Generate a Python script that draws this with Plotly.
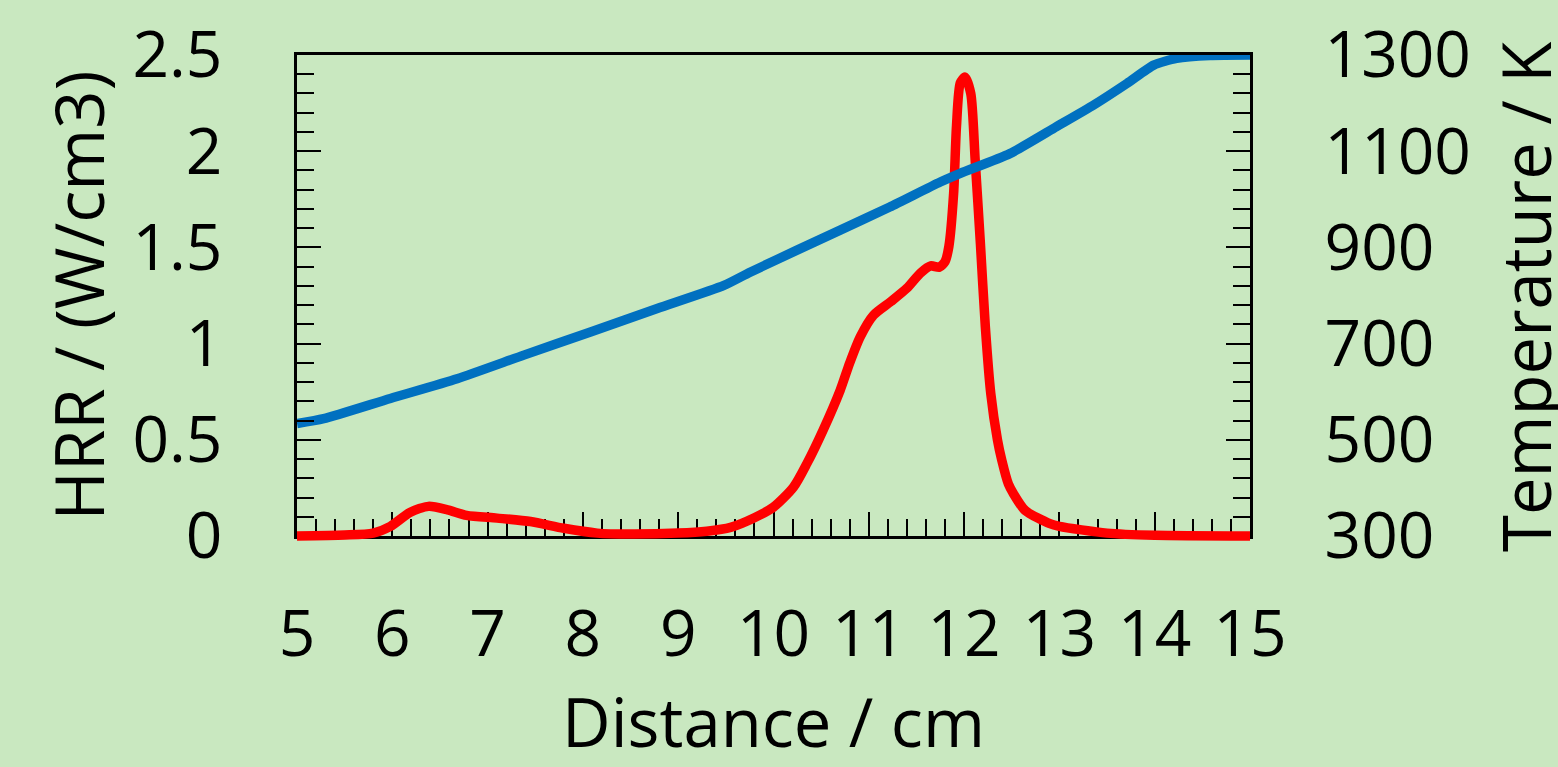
import plotly.graph_objects as go

# HRR (left axis)
hrr_x = [5.0, 5.5, 5.8, 5.98, 6.19, 6.38, 6.58, 6.78, 7.1, 7.45, 7.8, 8.15, 8.5, 9.0, 9.3,
         9.55, 9.8, 10.0, 10.21, 10.35, 10.52, 10.7, 10.8, 10.91, 11.05, 11.23, 11.40,
         11.54, 11.65, 11.74, 11.80, 11.84, 11.89, 11.92, 11.96, 12.01, 12.07, 12.116,
         12.171, 12.223, 12.28, 12.35, 12.396, 12.465, 12.518, 12.64, 12.9, 13.0,
         13.5, 14.0, 15.0]
hrr_y = [0.0, 0.005, 0.015, 0.05, 0.124, 0.154, 0.136, 0.107, 0.093, 0.075, 0.04, 0.015, 0.01,
         0.015, 0.025, 0.045, 0.095, 0.15, 0.254, 0.376, 0.55, 0.758, 0.90, 1.035, 1.148, 1.218,
         1.288, 1.366, 1.404, 1.397, 1.426, 1.504, 1.78, 2.13, 2.355, 2.385, 2.30, 1.956,
         1.52, 1.087, 0.74, 0.50, 0.393, 0.27, 0.22, 0.133, 0.064, 0.05,
         0.015, 0.004, 0.0]

# Temperature (right axis)
temp_x = [5.0, 5.28, 5.98, 6.68, 7.38, 8.08, 8.78, 9.48, 9.76, 10.7, 11.22, 11.75, 11.96,
          12.48, 12.97, 13.36, 13.71, 13.99, 14.23, 14.58, 15.0]
temp_y = [534, 544, 586, 627, 676, 724, 773, 821, 849, 936, 984, 1036, 1054,
          1095, 1151, 1196, 1241, 1279, 1293, 1299, 1300]

x_title = "Distance / cm"
y_title = "HRR / (W/cm3)"
y2_title = "Temperature / K"

BG = "#C9E8C0"
FONT = "Open Sans"
TICKFONT = dict(family=FONT, size=64, color="black")
TITLEFONT = dict(family=FONT, size=67, color="black")

fig = go.Figure()
fig.add_trace(go.Scatter(x=hrr_x, y=hrr_y, mode="lines", yaxis="y",
                         line=dict(color="#FF0000", width=9.5, shape="spline", smoothing=0.7),
                         cliponaxis=False, showlegend=False))
fig.add_trace(go.Scatter(x=temp_x, y=temp_y, mode="lines", yaxis="y2",
                         line=dict(color="#0070C0", width=9.5, shape="spline", smoothing=0.6),
                         showlegend=False))

common = dict(showgrid=False, zeroline=False, showline=True, linecolor="black", linewidth=2.5,
              ticks="inside", ticklen=24, tickwidth=2, tickcolor="black",
              tickfont=TICKFONT)

fig.update_layout(
    width=1558, height=767,
    paper_bgcolor=BG, plot_bgcolor=BG,
    margin=dict(l=297, r=308, t=55, b=231, autoexpand=False),
    xaxis=dict(range=[5, 15], tick0=5, dtick=1, mirror=True, layer="below traces",
               minor=dict(dtick=0.2, ticks="inside", ticklen=17, tickwidth=2, tickcolor="black"),
               ticklabelstandoff=40,
               title=dict(text=x_title, font=TITLEFONT, standoff=50), **common),
    yaxis=dict(range=[0, 2.5], tick0=0, dtick=0.5,
               minor=dict(dtick=0.1, ticks="inside", ticklen=17, tickwidth=2, tickcolor="black"),
               ticklabelstandoff=59,
               title=dict(text=y_title, font=TITLEFONT, standoff=7), **common),
    yaxis2=dict(range=[300, 1300], tick0=300, dtick=200, overlaying="y", side="right",
                minor=dict(tick0=300, dtick=40, ticks="inside", ticklen=17, tickwidth=2, tickcolor="black"),
                ticklabelstandoff=59, **common),
    annotations=[dict(text=y2_title, xref="paper", yref="paper", x=1.2886, y=0.497,
                      xanchor="center", yanchor="middle", textangle=-90, showarrow=False,
                      font=TITLEFONT)],
)

post = """
document.body.style.margin='0';
document.body.style.background='%s';
(function(){
  var gd=document.querySelector('.js-plotly-plot');
  if(!gd) return;
  var lines=[].slice.call(gd.querySelectorAll('path.js-line'));
  var red=null, blue=null;
  lines.forEach(function(p){
    var s=(p.getAttribute('style')||'');
    if(s.indexOf('255, 0, 0')>=0) red=p;
    if(s.indexOf('0, 112, 192')>=0) blue=p;
  });
  if(!red) return;
  var e=red;
  while(e && e!==gd){
    if(e.hasAttribute && e.hasAttribute('clip-path')){
      var v=e.getAttribute('clip-path');
      if(blue && e.contains(blue) && !blue.hasAttribute('clip-path')) blue.setAttribute('clip-path', v);
      e.removeAttribute('clip-path');
    }
    e=e.parentElement;
  }
})();
""" % BG

fig.write_html("out.html", config={"displayModeBar": False}, post_script=post)
